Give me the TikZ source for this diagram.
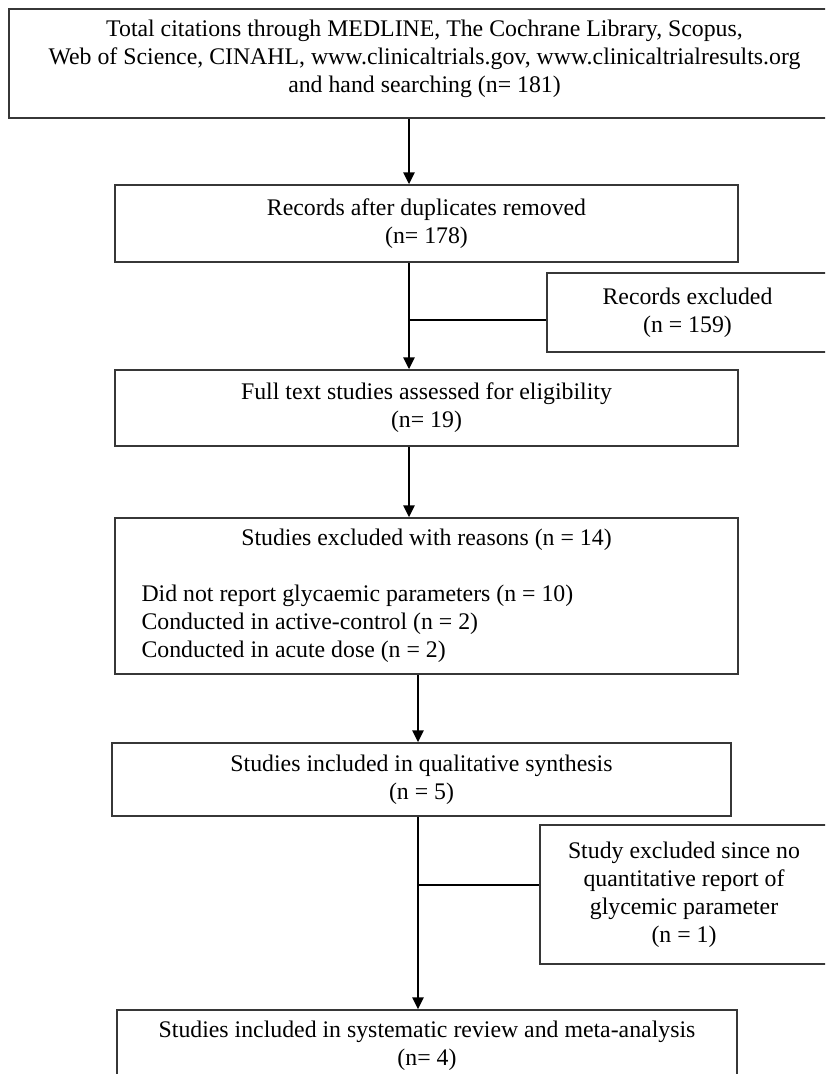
\documentclass[tikz,border=0pt]{standalone}
\usepackage{fontspec}
\setmainfont{Liberation Serif}
\usepackage{tikz}
\usetikzlibrary{positioning,calc,arrows.meta}
\definecolor{boxline}{RGB}{55,55,55}
\tikzstyle{flowbox} = [rectangle, draw=boxline, line width=1.5pt,
                       inner sep=0pt, align=center,
                       font=\fontsize{23.8}{28}\selectfont]
\tikzstyle{arrow} = [-{Triangle[length=12pt,width=11pt]}, line width=2.8pt]
\tikzstyle{link} = [line width=2.8pt]

\begin{document}
\begin{tikzpicture}[x=1pt,y=-1pt]
    \clip (0,0) rectangle (825,1074);

    % Main flow
    \node[flowbox, minimum width=831pt, minimum height=109pt] (total) at (424.5,63.5)
        {Total citations through MEDLINE, The Cochrane Library, Scopus,\\
         Web of Science, CINAHL, www.clinicaltrials.gov, www.clinicaltrialresults.org\\
         and hand searching (n= 181)\\[-14pt]\mbox{}};
    \node[flowbox, minimum width=623pt, minimum height=77pt] (dedup) at (426.5,223.5)
        {Records after duplicates removed\\(n= 178)};
    \node[flowbox, minimum width=623pt, minimum height=76pt] (fulltext) at (426.5,408)
        {Full text studies assessed for eligibility\\(n= 19)};
    \node[flowbox, minimum width=623pt, minimum height=156pt, text width=570pt, align=flush left] (reasons) at (426.5,596)
        {\makebox[570pt]{Studies excluded with reasons (n = 14)}\\[28pt]
         Did not report glycaemic parameters (n = 10)\\
         Conducted in active-control (n = 2)\\
         Conducted in acute dose (n = 2)};
    \node[flowbox, minimum width=619pt, minimum height=73pt] (quali) at (421.5,779.5)
        {Studies included in qualitative synthesis\\(n = 5)};
    \node[flowbox, minimum width=620pt, minimum height=72pt] (meta) at (427,1046)
        {Studies included in systematic review and meta-analysis\\(n= 4)};

    % Exclusion boxes
    \node[flowbox, minimum width=281pt, minimum height=79pt] (recexcl) at (687.5,312.5)
        {Records excluded\\(n = 159)};
    \node[flowbox, minimum width=288pt, minimum height=139pt] (studyexcl) at (684,894.5)
        {Study excluded since no\\quantitative report of\\glycemic parameter\\(n = 1)};

    % Connectors
    \coordinate (upper) at (409,0);
    \coordinate (lower) at (418,0);
    \coordinate (j1) at (409,320);
    \coordinate (j2) at (418,885);
    \draw[arrow] (total.south -| upper) -- (dedup.north -| upper);
    \draw[arrow] (dedup.south -| upper) -- (fulltext.north -| upper);
    \draw[link] (j1) -- (j1 -| recexcl.west);
    \draw[arrow] (fulltext.south -| upper) -- (reasons.north -| upper);
    \draw[arrow] (reasons.south -| lower) -- (quali.north -| lower);
    \draw[arrow] (quali.south -| lower) -- (meta.north -| lower);
    \draw[link] (j2) -- (j2 -| studyexcl.west);
\end{tikzpicture}
\end{document}
